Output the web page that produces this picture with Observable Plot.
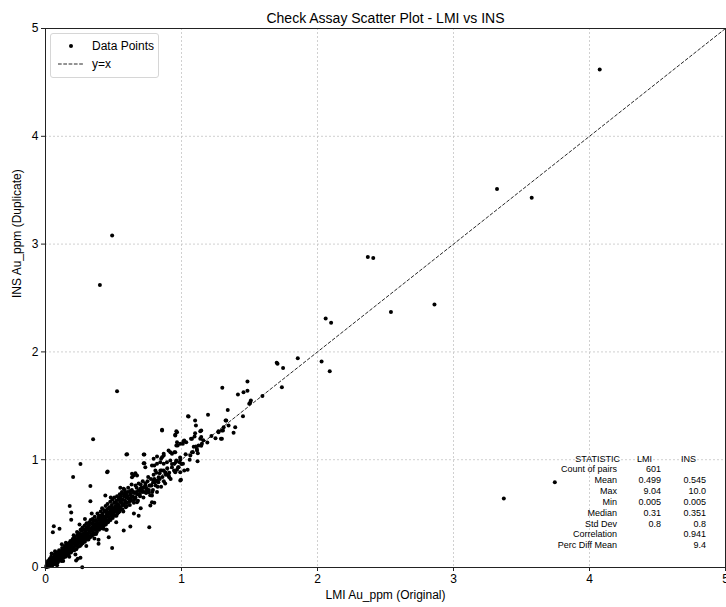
<!DOCTYPE html>
<html>
<head>
<meta charset="utf-8">
<script src="https://cdn.jsdelivr.net/npm/d3@7"></script>
<script src="https://cdn.jsdelivr.net/npm/@observablehq/plot@0.6"></script>
<style>
  html, body { margin: 0; padding: 0; background: #fff; }
  #wrap { position: relative; width: 726px; height: 607px; font-family: "Liberation Sans", Arial, sans-serif; }
  #legend { position: absolute; left: 50px; top: 33px; width: 107px; height: 43px; border: 1px solid #d6d6d6; border-radius: 3px; background: rgba(255,255,255,0.85); }
  #legend svg { position: absolute; left: 0; top: 0; }
  #stats { position: absolute; left: 0; top: 0; width: 726px; height: 607px; pointer-events: none; font-size: 9px; color: #000; }
  #stats span { position: absolute; white-space: nowrap; line-height: 10px; }
</style>
</head>
<body>
<div id="wrap"></div>
<script>
// ---------- data (LMI original, INS duplicate) ----------
const titleText = "Check Assay Scatter Plot - LMI vs INS";
const xLabel = "LMI Au_ppm (Original)";
const yLabel = "INS Au_ppm (Duplicate)";
const xTicks = [0, 1, 2, 3, 4, 5];
const yTicks = [0, 1, 2, 3, 4, 5];
const diagonal = [0, 5];
const legendLabels = ["Data Points", "y=x"];

const statNames = ["STATISTIC", "Count of pairs", "Mean", "Max", "Min", "Median", "Std Dev", "Correlation", "Perc Diff Mean"];
const statLMI = ["LMI", "601", "0.499", "9.04", "0.005", "0.31", "0.8", "", ""];
const statINS = ["INS", "", "0.545", "10.0", "0.005", "0.351", "0.8", "0.941", "9.4"];

const outlierPairs = [
  [4.075,4.62],[3.32,3.51],[3.575,3.43],[0.49,3.08],[0.40,2.62],[2.37,2.88],[2.41,2.87],[2.86,2.44],
  [2.54,2.37],[2.06,2.31],[2.10,2.27],[2.03,1.91],[2.09,1.82],[3.37,0.64],[3.745,0.79],[0.526,1.635]
];

const midPairs = [
  [1.30,1.667],[1.485,1.725],[1.485,1.64],[1.456,1.626],[1.415,1.605],[1.51,1.55],[1.505,1.53],[1.595,1.59],[1.738,1.673],[1.70,1.90],
  [1.706,1.89],[1.855,1.94],[1.747,1.85],[1.195,1.417],[1.34,1.46],[1.329,1.364],[1.452,1.404],[1.31,1.30],[1.305,1.27],[1.272,1.264],
  [1.29,1.194],[1.395,1.30],[1.383,1.25],[1.145,1.27],[1.145,1.21],[1.145,1.13],[1.498,1.52],[1.048,1.404],[1.052,1.40],[1.10,1.364],
  [1.106,1.317],[1.138,1.264],[1.10,1.246],[1.096,1.215],[0.857,1.277],[0.962,1.264],[0.954,1.231],[1.015,1.172],[1.035,1.162],[1.01,1.147],
  [1.07,1.194],[1.138,1.194],[0.962,1.132],[1.126,1.132],[1.106,1.122],[0.918,1.07],[0.954,1.07],[0.905,1.085],[0.869,1.055],[0.82,1.03],
  [0.795,1.008],[0.962,0.993],[0.991,1.0],[1.114,1.085],[1.084,1.07],[1.065,1.039],[1.272,1.255],[1.297,1.27],[1.324,1.364],[1.346,1.317],
  [1.297,1.194],[0.972,1.132],[0.991,1.147],[0.967,1.162],[0.954,1.224],[0.967,1.255],[0.857,1.27],[1.077,1.194],[1.02,1.178],[1.15,1.147],
  [1.113,1.10],[1.077,1.07],[1.118,0.986],[0.595,1.048],[0.722,1.048],[0.453,0.884],[0.722,0.968],[0.783,0.946],[0.80,0.946],[0.82,0.962],
  [0.844,0.977],[0.857,1.023],[0.869,1.039],[0.85,1.008],[0.93,1.055],[0.947,1.07],[0.869,0.962],[0.893,0.977],[0.918,0.993],[0.93,0.93],
  [0.947,0.962],[0.986,0.977],[1.011,0.962],[0.979,0.93],[0.954,0.884],[0.905,0.853],[0.869,0.90],[0.839,0.875],[0.832,0.838],[0.82,0.807],
  [0.795,0.807],[0.771,0.761],[0.791,0.791],[0.991,0.807],[0.991,0.884],[0.967,0.906],[0.996,0.813],[1.045,0.906],[1.02,0.90],[0.636,0.869],
  [0.648,0.853],[0.661,0.875],[0.636,0.838],[0.673,0.853],[0.697,0.73],[0.722,0.745],[0.71,0.714],[0.685,0.714],[0.746,0.73],[0.759,0.699],
  [0.783,0.668],[0.734,0.761],[0.575,0.73],[0.587,0.699],[0.60,0.668],[0.563,0.684],[0.624,0.684],[0.648,0.699],[0.612,0.637],[0.661,0.652],
  [0.673,0.606],[0.587,0.606],[0.551,0.622],[0.783,0.606],[0.771,0.575],[0.727,1.048],[0.727,0.968],[0.734,0.93],[0.808,0.90],[0.845,0.90],
  [0.881,0.884],[0.91,0.838],[0.60,1.05],[0.35,1.19],[0.257,0.96],[0.203,0.84],[0.457,0.89],[0.33,0.755],[0.33,0.615],[0.178,0.57],
  [0.189,0.51],[0.061,0.383],[0.49,0.18],[0.257,0.09],[0.27,0.003],[0.763,0.374],[0.685,0.48],[0.624,0.38],[0.575,0.343],[0.465,0.28],
  [0.39,0.257],[0.39,0.22],[0.189,0.442],[0.054,0.328],[0.103,0.359],[0.44,0.668],[0.446,0.35],[0.31,0.313],[0.409,0.405],[0.421,0.39],
  [0.237,0.081],[0.225,0.065]
];

const clusterPairs = [
  [0.005,0.005],[0.008,0.02],[0.01,0.005],[0.012,0.04],[0.015,0.015],[0.018,0.06],[0.02,0.025],[0.022,0.01],[0.025,0.05],[0.028,0.035],
  [0.03,0.08],[0.032,0.02],[0.035,0.045],[0.038,0.065],[0.04,0.03],[0.042,0.1],[0.045,0.055],[0.048,0.04],[0.05,0.075],[0.052,0.02],
  [0.055,0.06],[0.058,0.09],[0.06,0.045],[0.062,0.12],[0.065,0.07],[0.068,0.055],[0.07,0.095],[0.072,0.03],[0.075,0.08],[0.078,0.11],
  [0.08,0.065],[0.083,0.14],[0.085,0.09],[0.088,0.075],[0.09,0.105],[0.092,0.05],[0.095,0.1],[0.098,0.13],[0.1,0.085],[0.1,0.16],
  [0.103,0.115],[0.106,0.095],[0.11,0.125],[0.112,0.07],[0.115,0.11],[0.118,0.15],[0.12,0.1],[0.122,0.18],[0.125,0.135],[0.128,0.115],
  [0.13,0.145],[0.132,0.09],[0.135,0.13],[0.138,0.17],[0.14,0.12],[0.142,0.2],[0.145,0.155],[0.148,0.135],[0.15,0.165],[0.152,0.11],
  [0.155,0.15],[0.158,0.19],[0.16,0.14],[0.162,0.22],[0.165,0.175],[0.168,0.155],[0.17,0.185],[0.172,0.13],[0.175,0.17],[0.178,0.21],
  [0.18,0.16],[0.183,0.245],[0.185,0.195],[0.188,0.175],[0.19,0.205],[0.192,0.15],[0.195,0.19],[0.198,0.23],[0.2,0.18],[0.2,0.265],
  [0.203,0.22],[0.206,0.25],[0.21,0.19],[0.213,0.28],[0.216,0.235],[0.22,0.205],[0.223,0.26],[0.226,0.17],[0.23,0.245],[0.233,0.3],
  [0.236,0.22],[0.24,0.27],[0.243,0.32],[0.246,0.235],[0.25,0.285],[0.253,0.2],[0.256,0.26],[0.26,0.31],[0.263,0.245],[0.266,0.34],
  [0.27,0.28],[0.273,0.225],[0.276,0.3],[0.28,0.265],[0.283,0.35],[0.286,0.31],[0.29,0.24],[0.293,0.29],[0.296,0.33],[0.3,0.275],
  [0.3,0.37],[0.304,0.32],[0.308,0.26],[0.31,0.3],[0.314,0.355],[0.318,0.29],[0.32,0.39],[0.324,0.33],[0.328,0.28],[0.33,0.36],
  [0.334,0.31],[0.338,0.41],[0.34,0.345],[0.344,0.3],[0.348,0.38],[0.35,0.33],[0.354,0.43],[0.358,0.365],[0.36,0.31],[0.364,0.4],
  [0.368,0.35],[0.37,0.44],[0.374,0.385],[0.378,0.33],[0.38,0.42],[0.384,0.36],[0.388,0.46],[0.39,0.4],[0.394,0.35],[0.398,0.44],
  [0.4,0.38],[0.404,0.48],[0.408,0.42],[0.41,0.365],[0.414,0.46],[0.418,0.4],[0.42,0.5],[0.424,0.44],[0.428,0.385],[0.43,0.47],
  [0.434,0.42],[0.438,0.52],[0.44,0.46],[0.444,0.4],[0.448,0.49],[0.45,0.44],[0.454,0.54],[0.458,0.48],[0.46,0.42],[0.464,0.51],
  [0.468,0.46],[0.47,0.56],[0.474,0.5],[0.478,0.44],[0.48,0.53],[0.484,0.48],[0.488,0.58],[0.49,0.52],[0.494,0.46],[0.498,0.55],
  [0.5,0.5],[0.504,0.6],[0.508,0.54],[0.51,0.48],[0.514,0.57],[0.518,0.52],[0.52,0.62],[0.524,0.56],[0.528,0.5],[0.53,0.59],
  [0.534,0.54],[0.538,0.64],[0.54,0.58],[0.544,0.52],[0.548,0.61],[0.55,0.56],[0.555,0.66],[0.56,0.6],[0.565,0.54],[0.57,0.63],
  [0.575,0.58],[0.58,0.68],[0.585,0.62],[0.59,0.56],[0.595,0.65],[0.6,0.6],[0.605,0.7],[0.61,0.64],[0.62,0.58],[0.625,0.67],
  [0.63,0.62],[0.635,0.72],[0.64,0.66],[0.65,0.6],[0.655,0.69],[0.66,0.64],[0.67,0.74],[0.675,0.68],[0.68,0.62],[0.69,0.71],
  [0.695,0.66],[0.7,0.77],[0.71,0.7],[0.72,0.65],[0.73,0.74],[0.74,0.69],[0.75,0.8],[0.76,0.72],[0.77,0.67],[0.78,0.76],
  [0.79,0.72],[0.8,0.82],[0.81,0.76],[0.82,0.7],[0.83,0.79],[0.85,0.75],[0.86,0.84],[0.88,0.78],[0.9,0.86],[0.92,0.82]
];

const clusterExtraPairs = [
  [0.013,0.03],[0.027,0.012],[0.033,0.058],[0.047,0.025],[0.057,0.082],[0.063,0.035],[0.073,0.062],[0.077,0.125],[0.087,0.045],[0.093,0.118],
  [0.097,0.07],[0.107,0.14],[0.113,0.088],[0.117,0.06],[0.123,0.155],[0.127,0.095],[0.137,0.108],[0.143,0.178],[0.147,0.1],[0.153,0.13],
  [0.157,0.21],[0.163,0.12],[0.167,0.195],[0.173,0.148],[0.177,0.23],[0.187,0.14],[0.193,0.225],[0.197,0.165],[0.045,0.13],[0.07,0.15],
  [0.12,0.215],[0.15,0.23],[0.085,0.02],[0.13,0.06],[0.175,0.1],
  [0.207,0.3],[0.212,0.16],[0.218,0.27],[0.228,0.215],[0.232,0.33],[0.238,0.19],[0.248,0.31],[0.252,0.245],[0.258,0.35],[0.262,0.21],
  [0.268,0.3],[0.272,0.37],[0.278,0.245],[0.282,0.32],[0.288,0.39],[0.292,0.27],[0.298,0.35],[0.302,0.41],[0.306,0.3],[0.312,0.38],
  [0.316,0.26],[0.322,0.42],[0.326,0.35],[0.332,0.44],[0.336,0.29],[0.342,0.37],[0.346,0.45],[0.352,0.31],[0.356,0.4],[0.362,0.47],
  [0.366,0.37],[0.372,0.31],[0.376,0.43],[0.382,0.5],[0.386,0.39],[0.392,0.48],[0.396,0.37],[0.25,0.4],[0.29,0.45],[0.34,0.5],
  [0.22,0.12],[0.3,0.2],[0.36,0.27],
  [0.402,0.46],[0.406,0.52],[0.412,0.43],[0.416,0.55],[0.422,0.47],[0.426,0.36],[0.432,0.53],[0.436,0.45],[0.442,0.57],[0.446,0.43],
  [0.452,0.51],[0.456,0.59],[0.462,0.47],[0.466,0.55],[0.472,0.44],[0.476,0.61],[0.482,0.5],[0.486,0.56],[0.492,0.63],[0.496,0.49],
  [0.502,0.55],[0.506,0.65],[0.512,0.53],[0.516,0.6],[0.522,0.48],[0.526,0.66],[0.532,0.57],[0.536,0.51],[0.542,0.63],[0.546,0.68],
  [0.552,0.54],[0.558,0.63],[0.562,0.7],[0.568,0.58],[0.572,0.52],[0.578,0.66],[0.582,0.72],[0.588,0.6],[0.592,0.69],[0.598,0.57],
  [0.602,0.65],[0.608,0.74],[0.615,0.61],[0.45,0.35],[0.52,0.42],[0.48,0.65],[0.55,0.74],
  [0.622,0.71],[0.628,0.64],[0.633,0.77],[0.645,0.7],[0.652,0.63],[0.662,0.76],[0.668,0.7],[0.685,0.78],[0.692,0.68],[0.705,0.74],
  [0.715,0.8],[0.725,0.7],[0.735,0.78],[0.745,0.72],[0.755,0.84],[0.765,0.76],[0.775,0.82],[0.785,0.7],[0.795,0.86],[0.805,0.79],
  [0.815,0.88],[0.825,0.75],[0.84,0.82],[0.855,0.9],[0.87,0.8],[0.885,0.86],[0.895,0.92],[0.91,0.88],[0.93,0.96],[0.945,0.9],
  [0.96,0.98],[0.975,0.93],[0.99,1.02],[1.0,0.96],[1.03,1.05],[1.06,1.0],[1.09,1.12],[1.12,1.06],[1.16,1.18],[1.19,1.16],
  [1.22,1.22],[1.25,1.2],[0.7,0.55],[0.65,0.5],[0.8,0.6]
];

// ---------- chart ----------
const points = [...clusterPairs, ...clusterExtraPairs, ...midPairs, ...outlierPairs].map(([lmi, ins]) => ({lmi, ins}));
const diagLink = [{x1: diagonal[0], y1: diagonal[0], x2: diagonal[1], y2: diagonal[1]}];
const gridStyle = {stroke: "#c4c4c4", strokeOpacity: 1, strokeWidth: 0.8, strokeDasharray: "2,2"};

const chart = Plot.plot({
  width: 726,
  height: 607,
  marginTop: 28,
  marginRight: 1,
  marginBottom: 40,
  marginLeft: 45,
  style: {fontFamily: "'Liberation Sans', Arial, sans-serif", fontSize: "12px", background: "white", color: "#000", overflow: "visible"},
  x: {domain: [0, 5], label: null},
  y: {domain: [0, 5], label: null},
  marks: [
    Plot.gridX(xTicks, gridStyle),
    Plot.gridY(yTicks, gridStyle),
    Plot.link(diagLink, {x1: "x1", y1: "y1", x2: "x2", y2: "y2", stroke: "#111", strokeWidth: 0.9, strokeDasharray: "3.7,1.6"}),
    Plot.dot(points, {x: "lmi", y: "ins", r: 2, fill: "#000", stroke: "none"}),
    Plot.frame({stroke: "#222", strokeWidth: 1}),
    Plot.axisX(xTicks, {tickSize: 4, tickPadding: 3, fontSize: 12, label: null, tickFormat: d3.format("d"), stroke: "#222"}),
    Plot.axisY(yTicks, {tickSize: 4, tickPadding: 3, fontSize: 12, label: null, tickFormat: d3.format("d"), stroke: "#222"}),
    Plot.text([titleText], {frameAnchor: "top", dy: -15, fontSize: 14, text: d => d, fill: "#000"}),
    Plot.text([xLabel], {frameAnchor: "bottom", dy: 31, fontSize: 12, text: d => d, fill: "#000"}),
    Plot.text([yLabel], {frameAnchor: "left", dx: -28, rotate: -90, fontSize: 12, text: d => d, fill: "#000"})
  ]
});

const wrap = document.getElementById("wrap");
wrap.appendChild(chart);

// ---------- legend ----------
const legend = d3.select(wrap).append("div").attr("id", "legend");
const lsvg = legend.append("svg").attr("width", 107).attr("height", 43);
lsvg.append("circle").attr("cx", 20).attr("cy", 12).attr("r", 2).attr("fill", "#000");
lsvg.append("line").attr("x1", 7).attr("x2", 32).attr("y1", 30).attr("y2", 30)
  .attr("stroke", "#111").attr("stroke-width", 0.9).attr("stroke-dasharray", "3.7,1.6");
legendLabels.forEach((t, i) => {
  lsvg.append("text").attr("x", 41).attr("y", 12 + i * 18).attr("dy", "0.35em")
    .attr("font-size", 12).attr("font-family", "'Liberation Sans', Arial, sans-serif").attr("fill", "#000").text(t);
});

// ---------- statistics table ----------
const stats = d3.select(wrap).append("div").attr("id", "stats");
const rowTop = 453.5, rowStep = 10.85;
statNames.forEach((name, i) => {
  const top = rowTop + i * rowStep;
  stats.append("span").style("top", top + "px").style("right", (726 - (i === 0 ? 620 : 617)) + "px").text(name);
  if (i === 0) {
    stats.append("span").style("top", top + "px").style("left", "637px").text(statLMI[i]);
    stats.append("span").style("top", top + "px").style("left", "681px").text(statINS[i]);
  } else {
    if (statLMI[i]) stats.append("span").style("top", top + "px").style("right", (726 - 661) + "px").text(statLMI[i]);
    if (statINS[i]) stats.append("span").style("top", top + "px").style("right", (726 - 706) + "px").text(statINS[i]);
  }
});
</script>
</body>
</html>
